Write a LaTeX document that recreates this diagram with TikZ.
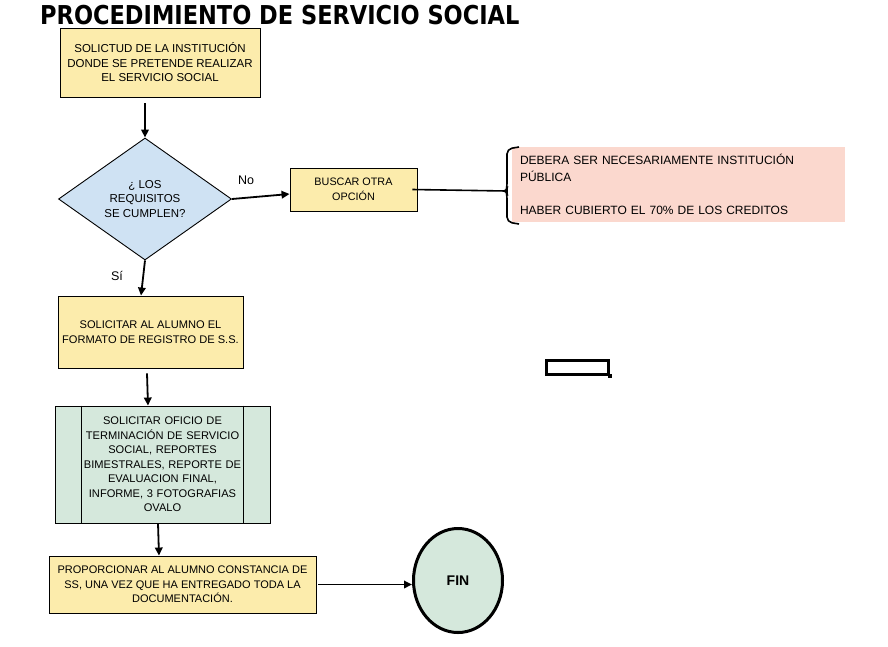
\documentclass[tikz,border=0pt]{standalone}
\usepackage{fontspec}
\setmainfont{Liberation Sans}
\newfontfamily\titlefont{DejaVu Sans}
\usetikzlibrary{shapes.geometric,arrows.meta}
\definecolor{cyel}{RGB}{252,236,172}
\definecolor{cblue}{RGB}{207,226,243}
\definecolor{cgreen}{RGB}{213,232,220}
\definecolor{cpink}{RGB}{251,216,206}
\tikzset{
  base/.style={draw=black, line width=0.9pt, inner sep=0pt, align=center,
    font=\fontsize{11.5}{14.5}\selectfont},
  fs/.style={font=\fontsize{#1}{14.5}\selectfont},
  ybox/.style={base, fill=cyel},
  arr/.style={line width=1.8pt, -{Triangle[length=8pt,width=7.5pt]}},
  lbl/.style={font=\fontsize{12.5}{14}\selectfont, inner sep=0pt}
}
\begin{document}
\begin{tikzpicture}[x=1pt,y=-1pt]
\useasboundingbox[fill=white] (0,0) rectangle (888,646);

\node[anchor=base west, inner sep=0pt, font=\titlefont\bfseries\fontsize{26}{30}\selectfont] (title) at (40,24) {\scalebox{0.865}[1]{PROCEDIMIENTO DE SERVICIO SOCIAL}};

\node[ybox, minimum width=200pt, minimum height=69pt] (b1) at (160,62.5)
  {SOLICTUD DE LA INSTITUCIÓN\\DONDE SE PRETENDE REALIZAR\\EL SERVICIO SOCIAL};

\node[base, diamond, fill=cblue, minimum width=173pt, minimum height=122pt] (dia) at (145,199)
  {¿ LOS\\REQUISITOS\\SE CUMPLEN?};

\node[ybox, fs=10.8, minimum width=127pt, minimum height=43pt] (busc) at (353.5,189.5)
  {BUSCAR OTRA\\OPCIÓN};

\node[fill=cpink, inner xsep=8pt, inner ysep=0pt, text width=317pt, minimum height=75pt, align=left,
  font=\fontsize{12}{17}\selectfont] (req) at (678.5,184.5)
  {DEBERA SER NECESARIAMENTE INSTITUCIÓN\\PÚBLICA\\[16pt]HABER CUBIERTO EL 70\% DE LOS CREDITOS};

\coordinate (bm) at (506,191);
\draw[line width=1.6pt, rounded corners=5pt] (519,147) -- (507,149) -- (507,188) -- (bm) -- (507,194) -- (507,222) -- (519,224);

\node[ybox, fs=11.1, minimum width=185pt, minimum height=72pt] (sol) at (150.5,332)
  {SOLICITAR AL ALUMNO EL\\FORMATO DE REGISTRO DE S.S.};

\node[draw=black, line width=3pt, minimum width=62pt, minimum height=14pt, inner sep=0pt] (sel) at (577.5,367.5) {};
\node[fill=black, minimum size=4pt, inner sep=0pt] (selh) at (sel.south east) {};

\node[base, fs=11.1, fill=cgreen, minimum width=215pt, minimum height=117pt, text width=200pt] (proc) at (162.5,464.5)
  {SOLICITAR OFICIO DE\\TERMINACIÓN DE SERVICIO\\SOCIAL, REPORTES\\BIMESTRALES, REPORTE DE\\EVALUACION FINAL,\\INFORME, 3 FOTOGRAFIAS\\OVALO};
\draw[line width=0.9pt] ([xshift=27pt]proc.north west) -- ([xshift=27pt]proc.south west);
\draw[line width=0.9pt] ([xshift=-27pt]proc.north east) -- ([xshift=-27pt]proc.south east);

\node[ybox, fs=11, minimum width=267pt, minimum height=57pt] (prop) at (182.5,584.5)
  {PROPORCIONAR AL ALUMNO CONSTANCIA DE\\SS, UNA VEZ QUE HA ENTREGADO TODA LA\\DOCUMENTACIÓN.};

\node[ellipse, draw=black, line width=3pt, fill=cgreen, minimum width=89pt, minimum height=104pt,
  inner sep=0pt, font=\fontsize{14}{16}\selectfont\bfseries] (fin) at (458,580.5) {FIN};

\draw[arr, shorten <=6pt] (b1.south -| dia.north) -- (dia.north);
\draw[arr] (dia.east) -- ([yshift=-4.5pt]busc.west);
\node[lbl] (no) at (246,180) {No};
\draw[line width=1.6pt] ([xshift=-5pt]busc.east) -- (bm);
\draw[arr] (dia.south) -- ([xshift=-9.5pt]sol.north);
\node[lbl] (si) at (117,276) {Sí};
\draw[arr] ([xshift=-3.5pt,yshift=-5pt]sol.south) -- ([xshift=-14.5pt]proc.north);
\draw[arr] ([xshift=-4.5pt]proc.south) -- ([xshift=-23.5pt]prop.north);
\draw[arr, shorten <=2pt] (prop.east) -- (prop.east -| fin.west);
\end{tikzpicture}
\end{document}
